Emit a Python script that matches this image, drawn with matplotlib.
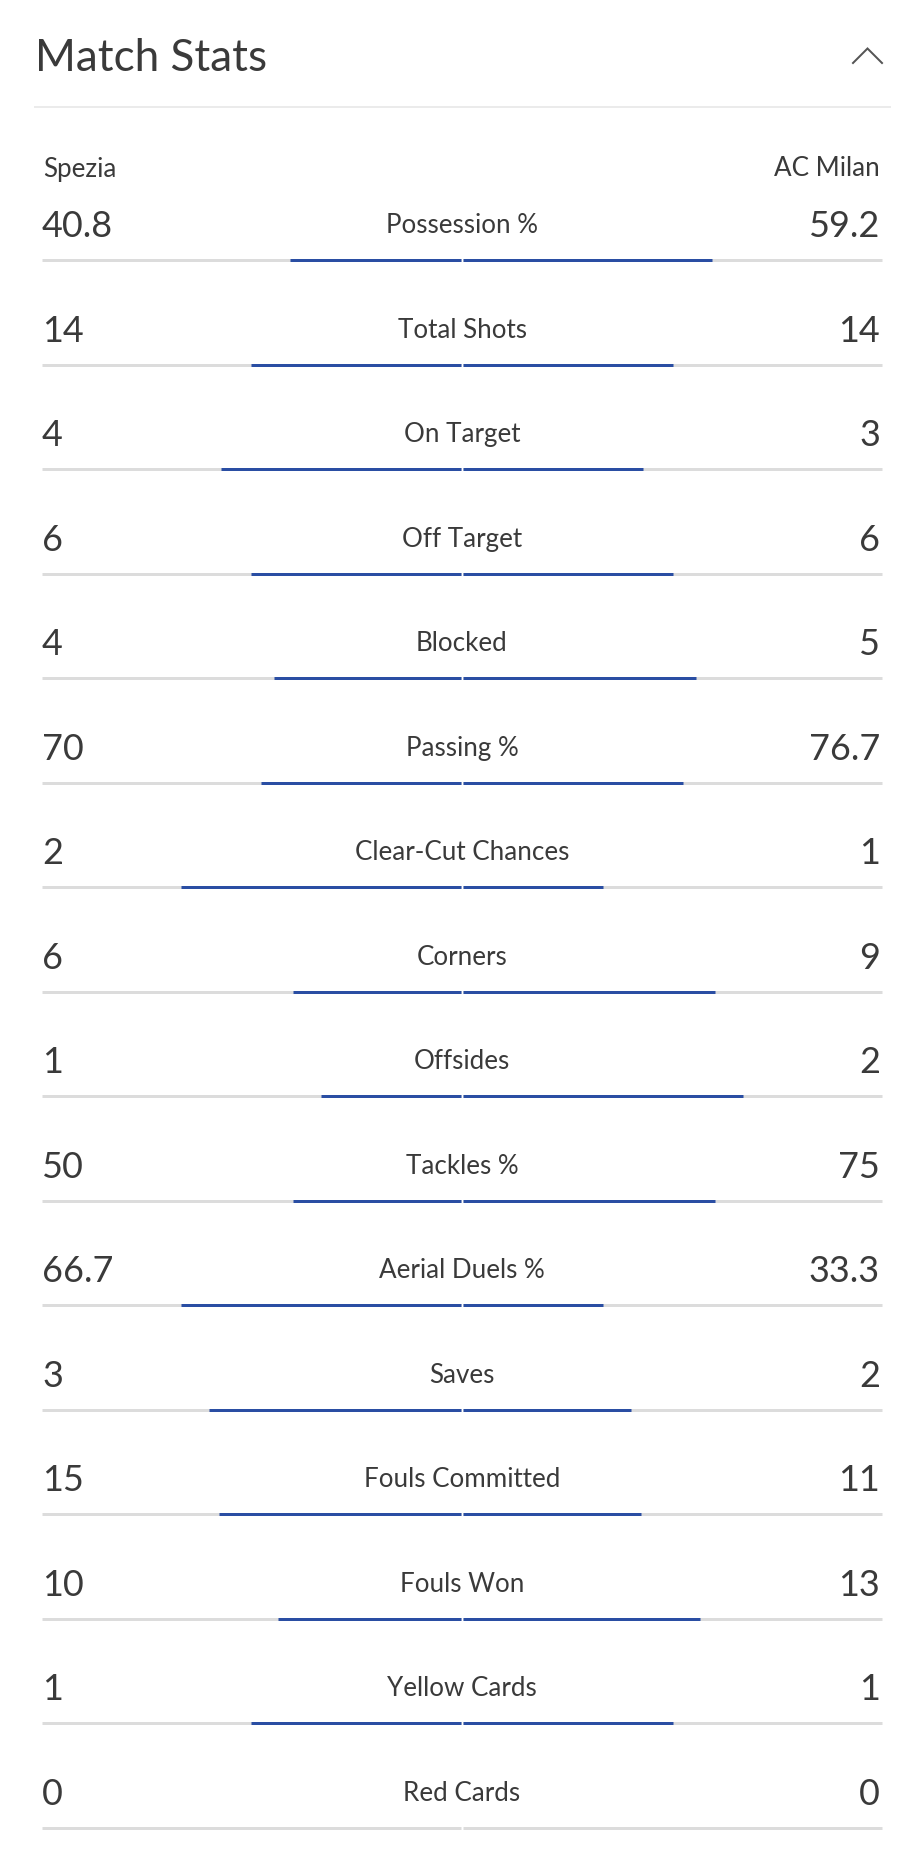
import matplotlib
matplotlib.use('Agg')
import matplotlib.pyplot as plt

# --- DATOS ---
home_team = 'Spezia'
away_team = 'AC Milan'
stat_names = ['Possession %', 'Total Shots', 'On Target', 'Off Target', 'Blocked',
              'Passing %', 'Clear-Cut Chances', 'Corners', 'Offsides', 'Tackles %',
              'Aerial Duels %', 'Saves', 'Fouls Committed', 'Fouls Won',
              'Yellow Cards', 'Red Cards']
home_vals = [40.8, 14, 4, 6, 4, 70, 2, 6, 1, 50, 66.7, 3, 15, 10, 1, 0]
away_vals = [59.2, 14, 3, 6, 5, 76.7, 1, 9, 2, 75, 33.3, 2, 11, 13, 1, 0]

# --- ESTILO ---
W, H = 919, 1869
DPI = 100
FONT = ['Lato', 'DejaVu Sans']
TXT = '#3a3a3a'
BLUE = '#2a4ea3'
GRAY = '#dcdcdc'
PX = 72 / DPI  # puntos por pixel

x0, x1 = 42, 882
xc = (x0 + x1) / 2
half = xc - x0
y_bar0, dy = 260, 104.5

fig = plt.figure(figsize=(W / DPI, H / DPI), dpi=DPI)
ax = fig.add_axes([0, 0, 1, 1])
ax.set_xlim(0, W)
ax.set_ylim(H, 0)
ax.axis('off')

# cabecera
ax.text(35, 71, 'Match Stats', fontsize=44 * PX, color=TXT, family=FONT,
        va='baseline', ha='left')
ax.plot([853, 867.5, 882], [63, 48.5, 63], color='#555555', lw=2 * PX,
        solid_joinstyle='miter')
ax.plot([35, 890], [107, 107], color='#ebebeb', lw=2 * PX)

ax.text(x0 + 1, 177, home_team, fontsize=26 * PX, color=TXT, family=FONT,
        va='baseline', ha='left')
ax.text(x1 - 2, 176, away_team, fontsize=26 * PX, color=TXT, family=FONT,
        va='baseline', ha='right')

for i, (name, hv, av) in enumerate(zip(stat_names, home_vals, away_vals)):
    yb = y_bar0 + i * dy
    ax.text(x0, yb - 23, f'{hv:g}', fontsize=36 * PX, color=TXT, family=FONT,
            va='baseline', ha='left')
    ax.text(x1 - 2, yb - 23, f'{av:g}', fontsize=36 * PX, color=TXT, family=FONT,
            va='baseline', ha='right')
    ax.text(xc, yb - 27, name, fontsize=26 * PX, color=TXT, family=FONT,
            va='baseline', ha='center')

    # linea base gris
    ax.plot([x0, xc - 1], [yb, yb], color=GRAY, lw=3 * PX, solid_capstyle='butt')
    ax.plot([xc + 1, x1], [yb, yb], color=GRAY, lw=3 * PX, solid_capstyle='butt')

    tot = hv + av
    if tot > 0:
        lh = hv / tot * half
        la = av / tot * half
        if lh > 0:
            ax.plot([xc - 1 - lh, xc - 1], [yb, yb], color=BLUE, lw=3 * PX,
                    solid_capstyle='butt')
        if la > 0:
            ax.plot([xc + 1, xc + 1 + la], [yb, yb], color=BLUE, lw=3 * PX,
                    solid_capstyle='butt')

fig.savefig('out.png', dpi=DPI, facecolor='white')
